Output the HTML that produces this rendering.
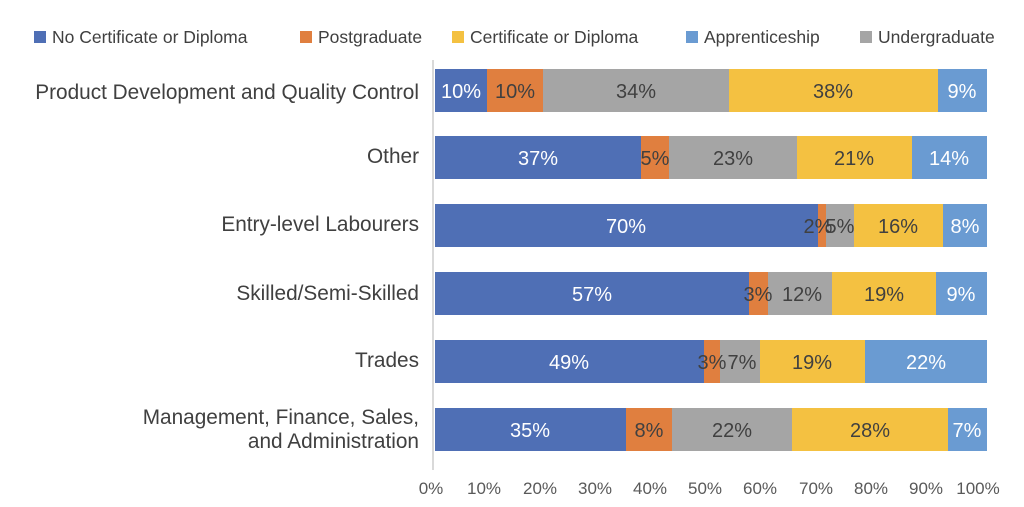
<!DOCTYPE html>
<html><head><meta charset="utf-8"><style>
body{margin:0;background:#fff;}
svg{display:block;font-family:"Liberation Sans",sans-serif;}
</style></head><body>
<svg width="1024" height="507" viewBox="0 0 1024 507">
<g font-size="17.5" fill="#404040">
<rect x="34" y="31" width="12" height="12" fill="#4F6FB5"/><text x="52" y="43">No Certificate or Diploma</text>
<rect x="300" y="31" width="12" height="12" fill="#E07F3F"/><text x="318" y="43">Postgraduate</text>
<rect x="452" y="31" width="12" height="12" fill="#F4C141"/><text x="470" y="43">Certificate or Diploma</text>
<rect x="686" y="31" width="12" height="12" fill="#6A9BD2"/><text x="704" y="43">Apprenticeship</text>
<rect x="860" y="31" width="12" height="12" fill="#A5A5A5"/><text x="878" y="43">Undergraduate</text>
</g>
<line x1="433" y1="60" x2="433" y2="470" stroke="#d9d9d9" stroke-width="2"/>
<g font-size="20.8" fill="#404040" text-anchor="end">
<text x="419" y="99">Product Development and Quality Control</text>
<text x="419" y="163">Other</text>
<text x="419" y="231">Entry-level Labourers</text>
<text x="419" y="300">Skilled/Semi-Skilled</text>
<text x="419" y="367">Trades</text>
<text x="419" y="424">Management, Finance, Sales,</text>
<text x="419" y="448">and Administration</text>
</g>
<g font-size="17" fill="#595959" text-anchor="middle">
<text x="431" y="494">0%</text><text x="484" y="494">10%</text><text x="540" y="494">20%</text><text x="595" y="494">30%</text><text x="650" y="494">40%</text><text x="705" y="494">50%</text><text x="760" y="494">60%</text><text x="816" y="494">70%</text><text x="871" y="494">80%</text><text x="926" y="494">90%</text><text x="978" y="494">100%</text>
</g>
<g>
<rect x="435" y="69" width="52" height="43" fill="#4F6FB5"/><rect x="487" y="69" width="56" height="43" fill="#E07F3F"/><rect x="543" y="69" width="186" height="43" fill="#A5A5A5"/><rect x="729" y="69" width="209" height="43" fill="#F4C141"/><rect x="938" y="69" width="49" height="43" fill="#6A9BD2"/>
<rect x="435" y="136" width="206" height="43" fill="#4F6FB5"/><rect x="641" y="136" width="28" height="43" fill="#E07F3F"/><rect x="669" y="136" width="128" height="43" fill="#A5A5A5"/><rect x="797" y="136" width="115" height="43" fill="#F4C141"/><rect x="912" y="136" width="75" height="43" fill="#6A9BD2"/>
<rect x="435" y="204" width="383" height="43" fill="#4F6FB5"/><rect x="818" y="204" width="8" height="43" fill="#E07F3F"/><rect x="826" y="204" width="28" height="43" fill="#A5A5A5"/><rect x="854" y="204" width="89" height="43" fill="#F4C141"/><rect x="943" y="204" width="44" height="43" fill="#6A9BD2"/>
<rect x="435" y="272" width="314" height="43" fill="#4F6FB5"/><rect x="749" y="272" width="19" height="43" fill="#E07F3F"/><rect x="768" y="272" width="64" height="43" fill="#A5A5A5"/><rect x="832" y="272" width="104" height="43" fill="#F4C141"/><rect x="936" y="272" width="51" height="43" fill="#6A9BD2"/>
<rect x="435" y="340" width="269" height="43" fill="#4F6FB5"/><rect x="704" y="340" width="16" height="43" fill="#E07F3F"/><rect x="720" y="340" width="40" height="43" fill="#A5A5A5"/><rect x="760" y="340" width="105" height="43" fill="#F4C141"/><rect x="865" y="340" width="122" height="43" fill="#6A9BD2"/>
<rect x="435" y="408" width="191" height="43" fill="#4F6FB5"/><rect x="626" y="408" width="46" height="43" fill="#E07F3F"/><rect x="672" y="408" width="120" height="43" fill="#A5A5A5"/><rect x="792" y="408" width="156" height="43" fill="#F4C141"/><rect x="948" y="408" width="39" height="43" fill="#6A9BD2"/>
</g>
<g font-size="20" text-anchor="middle" fill="#404040">
<text x="461" y="98" fill="#fff">10%</text><text x="515" y="98">10%</text><text x="636" y="98">34%</text><text x="833" y="98">38%</text><text x="962" y="98" fill="#fff">9%</text>
<text x="538" y="165" fill="#fff">37%</text><text x="655" y="165">5%</text><text x="733" y="165">23%</text><text x="854" y="165">21%</text><text x="949" y="165" fill="#fff">14%</text>
<text x="626" y="233" fill="#fff">70%</text><text x="818" y="233">2%</text><text x="840" y="233">5%</text><text x="898" y="233">16%</text><text x="965" y="233" fill="#fff">8%</text>
<text x="592" y="301" fill="#fff">57%</text><text x="758" y="301">3%</text><text x="802" y="301">12%</text><text x="884" y="301">19%</text><text x="961" y="301" fill="#fff">9%</text>
<text x="569" y="369" fill="#fff">49%</text><text x="712" y="369">3%</text><text x="742" y="369">7%</text><text x="812" y="369">19%</text><text x="926" y="369" fill="#fff">22%</text>
<text x="530" y="437" fill="#fff">35%</text><text x="649" y="437">8%</text><text x="732" y="437">22%</text><text x="870" y="437">28%</text><text x="967" y="437" fill="#fff">7%</text>
</g>
</svg>
</body></html>
